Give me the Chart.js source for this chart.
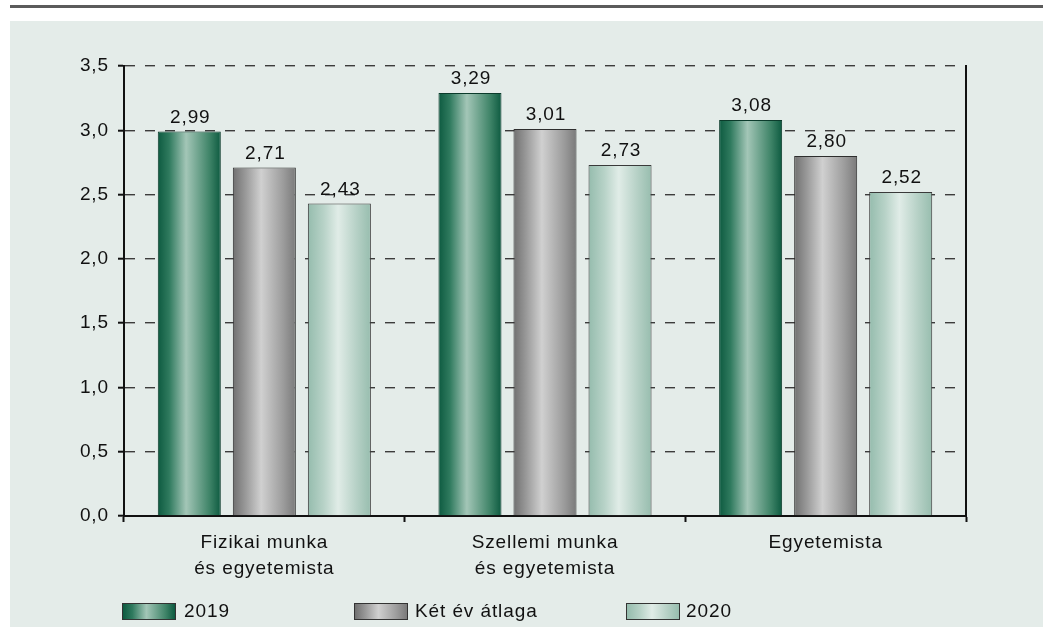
<!DOCTYPE html>
<html>
<head>
<meta charset="utf-8">
<script src="https://cdn.jsdelivr.net/npm/chart.js@4"></script>
<style>
  body { margin: 0; background: #fff; width: 1043px; height: 627px; overflow: hidden; position: relative;
         font-family: 'Liberation Sans', Arial, sans-serif; color: #111; }
  .rule { position: absolute; left: 10px; right: 0; top: 5px; height: 3px; background: #5b5b5b; }
  .panel { position: absolute; left: 10px; top: 21px; width: 1033px; height: 606px; background: #e4ece9; }
  .box { position: absolute; left: 0; top: 0; width: 1033px; height: 580px; }
  .lg { position: absolute; top: 582px; height: 16px; font-size: 19px; letter-spacing: 0.9px; }
  .lg span.sw { position: absolute; left: 0; top: 0; width: 52px; height: 15px; border: 1px solid #333; }
  .lg span.tx { position: absolute; top: -3px; white-space: nowrap; }
</style>
</head>
<body>
<div class="rule"></div>
<div class="panel">
  <div class="box"><canvas id="myChart"></canvas></div>
  <div class="lg" style="left:112px"><span class="sw" style="background:linear-gradient(90deg,#0d5a40,#2f7a5e 18%,#a3c6b7 45%,#3f8468 82%,#0d5a40)"></span><span class="tx" style="left:62px">2019</span></div>
  <div class="lg" style="left:344px"><span class="sw" style="background:linear-gradient(90deg,#707070,#999 20%,#d0d0d0 45%,#9c9c9c 80%,#7a7a7a)"></span><span class="tx" style="left:61px">Két év átlaga</span></div>
  <div class="lg" style="left:616px"><span class="sw" style="background:linear-gradient(90deg,#95bcad,#b7d2c7 25%,#e0ece7 48%,#b5d0c5 78%,#97bdae)"></span><span class="tx" style="left:60px">2020</span></div>
</div>
<script>
// adatok
const categories = [['Fizikai munka', 'és egyetemista'], ['Szellemi munka', 'és egyetemista'], 'Egyetemista'];
const series2019 = [2.99, 3.29, 3.08];
const seriesAvg = [2.71, 3.01, 2.80];
const series2020 = [2.43, 2.73, 2.52];
const yTicks = [0, 0.5, 1, 1.5, 2, 2.5, 3, 3.5];

// szín-átmenetek (bal szél -> közép -> jobb szél)
const gradStops = [
  [[0, '#0d5a40'], [0.18, '#2f7a5e'], [0.45, '#a3c6b7'], [0.82, '#3f8468'], [1, '#0d5a40']],
  [[0, '#707070'], [0.2, '#999999'], [0.45, '#d0d0d0'], [0.8, '#9c9c9c'], [1, '#7a7a7a']],
  [[0, '#95bcad'], [0.25, '#b7d2c7'], [0.48, '#e0ece7'], [0.78, '#b5d0c5'], [1, '#97bdae']]
];

const fontFam = "'Liberation Sans', Arial, sans-serif";
const comma = (v, d) => Number(v).toFixed(d).replace('.', ',');

const gradientBars = {
  id: 'gradientBars',
  beforeDraw(chart) {
    chart.ctx.letterSpacing = '0.9px';
  },
  beforeDatasetsDraw(chart) {
    const ctx = chart.ctx;
    chart.data.datasets.forEach((ds, di) => {
      const meta = chart.getDatasetMeta(di);
      meta.data.forEach(bar => {
        const g = ctx.createLinearGradient(bar.x - bar.width / 2, 0, bar.x + bar.width / 2, 0);
        gradStops[di].forEach(s => g.addColorStop(s[0], s[1]));
        bar.options = Object.assign({}, bar.options, { backgroundColor: g });
      });
    });
  },
  afterDatasetsDraw(chart) {
    const ctx = chart.ctx;
    ctx.save();
    ctx.font = '19px ' + fontFam;
    ctx.fillStyle = '#111';
    ctx.textAlign = 'center';
    ctx.textBaseline = 'alphabetic';
    chart.data.datasets.forEach((ds, di) => {
      chart.getDatasetMeta(di).data.forEach((bar, i) => {
        ctx.fillText(comma(ds.data[i], 2), bar.x + 1, bar.y - 9);
      });
    });
    // jobb oldali keret
    const a = chart.chartArea;
    ctx.strokeStyle = '#111';
    ctx.lineWidth = 2;
    ctx.beginPath();
    ctx.moveTo(a.right, a.top - 1);
    ctx.lineTo(a.right, a.bottom);
    ctx.stroke();
    ctx.restore();
  }
};

const data = {
  labels: categories,
  datasets: [
    { label: '2019', data: series2019, borderColor: '#0b3b2b', backgroundColor: '#3f8468' },
    { label: 'Két év átlaga', data: seriesAvg, borderColor: '#2e2e2e', backgroundColor: '#a0a0a0' },
    { label: '2020', data: series2020, borderColor: '#3a3a3a', backgroundColor: '#bcd5cb' }
  ]
};

const config = {
  type: 'bar',
  data: data,
  options: {
    responsive: true,
    maintainAspectRatio: false,
    animation: false,
    events: [],
    layout: { padding: { left: 0, right: 77, top: 45, bottom: 0 } },
    datasets: {
      bar: { borderWidth: 1, categoryPercentage: 0.802, barPercentage: 0.84 }
    },
    plugins: { legend: { display: false }, tooltip: { enabled: false } },
    scales: {
      x: {
        afterFit: s => { s.height = 85; },
        grid: { display: true, offset: true, drawOnChartArea: false, drawTicks: true,
                tickLength: 6, tickWidth: 2, tickColor: '#111', color: '#111' },
        border: { display: true, color: '#111', width: 2 },
        ticks: { color: '#111', padding: 8, maxRotation: 0, autoSkip: false,
                 font: { family: fontFam, size: 19, lineHeight: 1.36 } }
      },
      y: {
        min: 0, max: 3.5,
        afterFit: s => { s.width = 114; },
        afterBuildTicks: s => { s.ticks = yTicks.map(v => ({ value: v })); },
        grid: { color: '#3c3c3c', lineWidth: 1.4, drawTicks: true, tickLength: 6,
                tickWidth: 2, tickColor: '#111', tickBorderDash: [] },
        border: { display: true, color: '#111', width: 2, dash: [10, 10] },
        ticks: { color: '#111', padding: 9,
                 font: { family: fontFam, size: 19 },
                 callback: v => comma(v, 1) }
      }
    }
  },
  plugins: [gradientBars]
};

const myChart = new Chart(document.getElementById('myChart'), config);
</script>
</body>
</html>
